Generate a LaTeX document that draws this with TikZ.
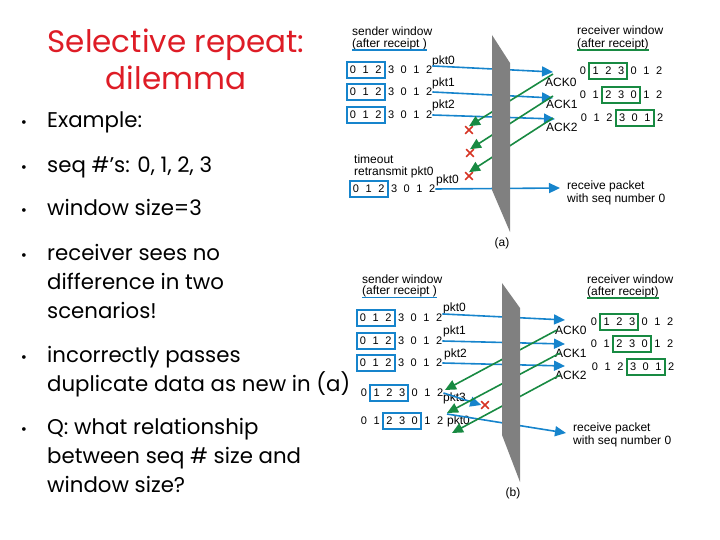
\documentclass[tikz,border=0pt]{standalone}
\usepackage{fontspec}
\setmainfont{Poppins}
\newfontfamily\diagfont{Liberation Sans}
\usetikzlibrary{arrows.meta,positioning,fit,shapes.misc}
\definecolor{srred}{RGB}{222,28,38}
\definecolor{srblue}{RGB}{22,132,204}
\definecolor{srgreen}{RGB}{24,138,66}
\definecolor{srgray}{RGB}{128,128,128}
\definecolor{srxred}{RGB}{214,52,36}
\tikzset{
  titletxt/.style={font=\fontsize{31}{37}\selectfont, text=srred, align=center, inner sep=0pt},
  bulletdot/.style={font=\fontsize{15}{15}\selectfont, inner sep=0pt, anchor=base},
  itemtxt/.style={font=\fontsize{21.3}{29}\selectfont, inner sep=0pt, anchor=base west, align=left},
  lbl/.style={font=\diagfont\fontsize{12}{13}\selectfont, inner sep=0pt, anchor=west},
  digit/.style={font=\diagfont\fontsize{11}{12}\selectfont, inner sep=0pt},
  winbox/.style={draw=#1, line width=2pt, inner xsep=3pt, inner ysep=3.5pt},
  uline/.style={draw=#1, line width=1.5pt},
  pktarrow/.style={draw=srblue, line width=1.6pt, -{Triangle[length=11pt,width=10pt]}},
  ackarrow/.style={draw=srgreen, line width=1.6pt, -{Triangle[length=11pt,width=10pt]}},
  lossmark/.style={cross out, draw=srxred, line width=1.6pt, minimum size=6pt, inner sep=0pt},
  wall/.style={fill=srgray},
}
% one row of sequence numbers with its window box
\newcommand{\seqrow}[6]{%
  \foreach \d [count=\i from 0] in {0,1,2,3,0,1,2}
    \node[digit] (#1-\i) at ({#2+12.7*\i},#3) {\d};
  \node[winbox=#6, fit=(#1-#4)(#1-#5)] (#1-win) {};
}

\begin{document}
\begin{tikzpicture}[x=1pt,y=-1pt]
  \useasboundingbox (0,0) rectangle (720,540);

  % Title (base = last line)
  \node[titletxt, anchor=base] (title) at (176,90) {Selective repeat:\\dilemma};

  % Bullet list (base of a multi-line item = its last line)
  \node[bulletdot] (dot1) at (24,128) {•};
  \node[itemtxt] (item1) at (47,128) {Example:};
  \node[bulletdot] (dot2) at (24,173) {•};
  \node[itemtxt] (item2) at (47,173) {seq \#’s: 0, 1, 2, 3};
  \node[bulletdot] (dot3) at (24,215) {•};
  \node[itemtxt] (item3) at (47,215) {window size=3};
  \node[bulletdot] (dot4) at (24,260) {•};
  \node[itemtxt] (item4) at (47,318) {receiver sees no\\difference in two\\scenarios!};
  \node[bulletdot] (dot5) at (24,362) {•};
  \node[itemtxt] (item5) at (47,391) {incorrectly passes\\duplicate data as new in (a)};
  \node[bulletdot] (dot6) at (24,434) {•};
  \node[itemtxt] (item6) at (47,492) {Q: what relationship\\between seq \# size and\\window size?};

  % ---------------- scenario (a) ----------------
  \node[lbl] (asend) at (352,31.5) {sender window};
  \node[lbl] (aafter) at (352,44) {(after receipt )};
  \draw[uline=srblue] (aafter.south west) -- (aafter.south east);
  \node[lbl] (arecv) at (577,30.5) {receiver window};
  \node[lbl] (arafter) at (577,44) {(after receipt)};
  \draw[uline=srgreen] (arafter.south west) -- (arafter.south east);

  \seqrow{a1}{353}{70}{0}{2}{srblue}
  \seqrow{a2}{353}{92}{0}{2}{srblue}
  \seqrow{a3}{353}{115}{0}{2}{srblue}
  \seqrow{a4}{356}{189}{0}{2}{srblue}
  \seqrow{ar1}{583}{71}{1}{3}{srgreen}
  \seqrow{ar2}{583}{95}{2}{4}{srgreen}
  \seqrow{ar3}{584}{118}{3}{5}{srgreen}

  \node[lbl] (apkt0) at (432,61) {pkt0};
  \node[lbl] (apkt1) at (432,83) {pkt1};
  \node[lbl] (apkt2) at (432,105) {pkt2};
  \node[lbl] (aack0) at (545,82) {ACK0};
  \node[lbl] (aack1) at (546,104) {ACK1};
  \node[lbl] (aack2) at (546,127) {ACK2};
  \node[lbl] (atime) at (354,159) {timeout};
  \node[lbl] (aretx) at (354,172) {retransmit pkt0};
  \node[lbl] (apkt0b) at (436,180) {pkt0};
  \node[lbl, align=left] (arcv) at (567,193) {receive packet\\with seq number 0};

  \node[lossmark] (ax0) at (469,130) {};
  \node[lossmark] (ax1) at (470,153) {};
  \node[lossmark] (ax2) at (469,176) {};

  \coordinate (at0) at (553,72);
  \coordinate (at1) at (553,98);
  \coordinate (at2) at (555,119);
  \coordinate (at3) at (560,188);
  \coordinate (aa0) at (553,74);
  \coordinate (aa1) at (553,96);
  \coordinate (aa2) at (553,118);

  \draw[pktarrow] (a1-6.north east) -- (at0);
  \draw[pktarrow] (a2-6.east) -- (at1);
  \draw[pktarrow] (a3-6.east) -- (at2);
  \draw[pktarrow] (a4-6.east) -- (at3);
  \draw[ackarrow] (aa0) -- (ax0.north);
  \draw[ackarrow] (aa1) -- (ax1.north);
  \draw[ackarrow] (aa2) -- (ax2.north);

  \fill[wall] (492,35) -- (510,63) -- (510,232) -- (492,190) -- cycle;
  \node[lbl, anchor=center] (alab) at (502,243) {(a)};

  % ---------------- scenario (b) ----------------
  \node[lbl] (bsend) at (362,279) {sender window};
  \node[lbl] (bafter) at (362,291.5) {(after receipt )};
  \draw[uline=srblue] (bafter.south west) -- (bafter.south east);
  \node[lbl] (brecv) at (587,279) {receiver window};
  \node[lbl] (brafter) at (587,292) {(after receipt)};
  \draw[uline=srgreen] (brafter.south west) -- (brafter.south east);

  \seqrow{b1}{363}{318}{0}{2}{srblue}
  \seqrow{b2}{363}{341}{0}{2}{srblue}
  \seqrow{b3}{363}{363}{0}{2}{srblue}
  \seqrow{b4}{364}{393}{1}{3}{srblue}
  \seqrow{b5}{364}{421}{2}{4}{srblue}
  \seqrow{br1}{594}{322}{1}{3}{srgreen}
  \seqrow{br2}{594}{344}{2}{4}{srgreen}
  \seqrow{br3}{595}{367}{3}{5}{srgreen}

  \node[lbl] (bpkt0) at (443,308) {pkt0};
  \node[lbl] (bpkt1) at (443,331) {pkt1};
  \node[lbl] (bpkt2) at (444,354) {pkt2};
  \node[lbl] (bpkt3) at (443,398) {pkt3};
  \node[lbl] (bpkt0b) at (447,421) {pkt0};
  \node[lbl] (back0) at (555,330) {ACK0};
  \node[lbl] (back1) at (555,353) {ACK1};
  \node[lbl] (back2) at (555,375) {ACK2};
  \node[lbl, align=left] (brcv) at (573,435) {receive packet\\with seq number 0};

  \node[lossmark] (bx) at (485,405) {};

  \coordinate (bt0) at (565,320);
  \coordinate (bt1) at (565,344);
  \coordinate (bt2) at (565,366);
  \coordinate (bt4) at (566,433);
  \coordinate (bs4) at (447,414);
  \coordinate (ba0) at (557,330);
  \coordinate (ba1) at (560,353);
  \coordinate (ba2) at (560,375);
  \coordinate (bk0) at (445,390);
  \coordinate (bk1) at (447,413);
  \coordinate (bk2) at (452,433);

  \draw[pktarrow] (b1-6.north east) -- (bt0);
  \draw[pktarrow] (b2-6.east) -- (bt1);
  \draw[pktarrow] (b3-6.east) -- (bt2);
  \draw[pktarrow] (b4-6.east) -- (bx.west);
  \draw[pktarrow] (bs4) -- (bt4);
  \draw[ackarrow] (ba0) -- (bk0);
  \draw[ackarrow] (ba1) -- (bk1);
  \draw[ackarrow] (ba2) -- (bk2);

  \fill[wall] (502,283) -- (520,308) -- (520,482) -- (502,435) -- cycle;
  \node[lbl, anchor=center] (blab) at (513,493) {(b)};
\end{tikzpicture}
\end{document}
